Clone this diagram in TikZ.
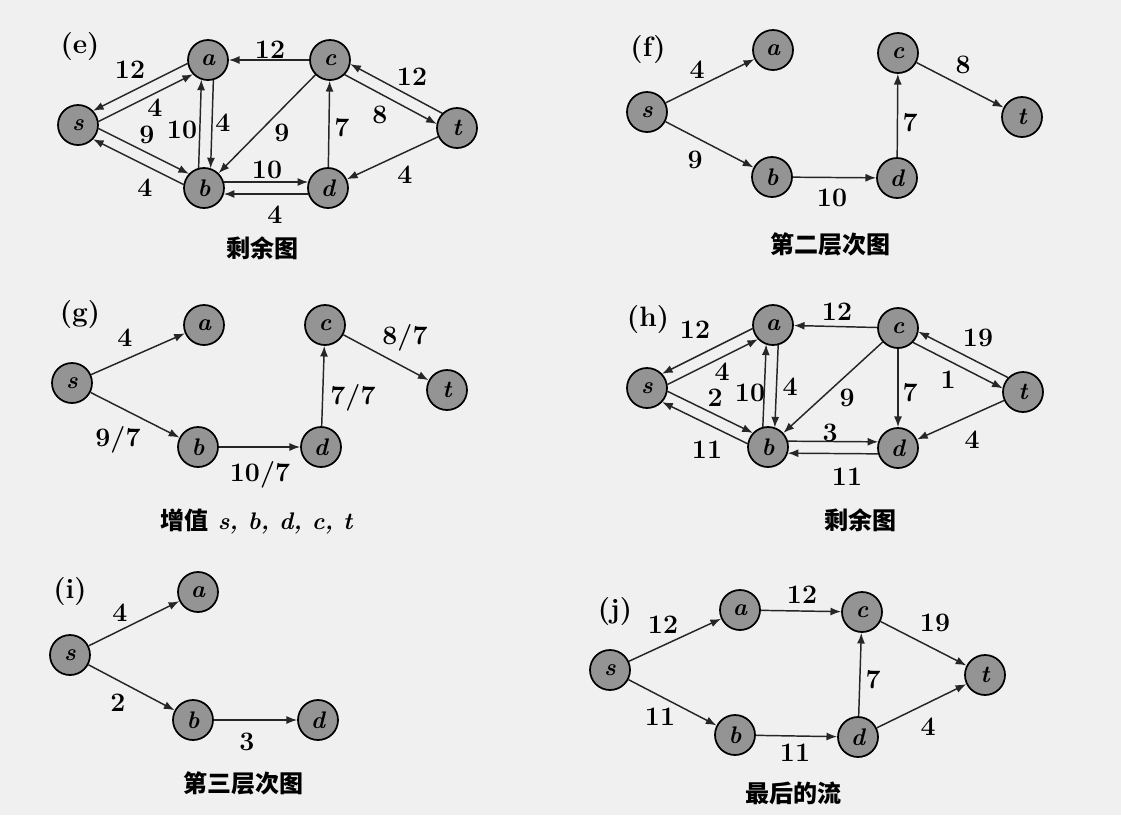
\documentclass[tikz,border=0pt]{standalone}
\usepackage{fontspec}
\usepackage{tikz}
\usetikzlibrary{arrows.meta,calc}
\newfontfamily\cjk{Noto Sans CJK SC}

\tikzset{
  vtx/.style={circle, draw, line width=1.3pt, fill=black!42, minimum size=30pt, inner sep=0pt, font=\fontsize{18}{18}\selectfont\bfseries\itshape},
  arr/.style={-{Latex[length=8pt,width=6pt]}, line width=1.1pt, draw=black!85},
  lbl/.style={inner sep=0.75pt, font=\fontsize{20}{20}\selectfont\bfseries},
  paneltag/.style={inner sep=0.75pt, font=\fontsize{21}{21}\selectfont\bfseries},
  captxt/.style={inner sep=0.75pt, font=\fontsize{18}{18}\selectfont\bfseries}
}
% two arrows side by side between the same pair of nodes
\newcommand{\laneL}[2]{\draw [arr, shorten <=14.8pt, shorten >=14.8pt] ($(#1)!4.5pt!-90:(#2)$) -- ($(#2)!4.5pt!90:(#1)$);}
\newcommand{\laneR}[2]{\draw [arr, shorten <=14.8pt, shorten >=14.8pt] ($(#1)!4.5pt!90:(#2)$) -- ($(#2)!4.5pt!-90:(#1)$);}

\begin{document}
\begin{tikzpicture}[x=0.75pt,y=0.75pt,yscale=-1,xscale=1]

\fill [white!94!black] (0,0) rectangle (1121,815);
\useasboundingbox (0,0) rectangle (1121,815);

% (e)
\node [paneltag] (etag) at (80,47) {(e)};
\node [vtx] (ea) at (208,60) {a};
\node [vtx] (ec) at (330,60) {c};
\node [vtx] (es) at (78,125) {s};
\node [vtx] (et) at (457,128) {t};
\node [vtx] (eb) at (204,188) {b};
\node [vtx] (ed) at (328,188) {d};

\draw [arr] (ec) -- (ea);
\laneR{ea}{es}
\laneR{es}{ea}
\laneL{es}{eb}
\laneL{eb}{es}
\laneL{eb}{ea}
\laneL{ea}{eb}
\draw [arr] (ec) -- (eb);
\draw [arr] (ed) -- (ec);
\laneR{et}{ec}
\laneR{ec}{et}
\draw [arr] (et) -- (ed);
\laneL{eb}{ed}
\laneL{ed}{eb}

\node [lbl] (e-ca) at (270,50) {12};
\node [lbl] (e-as) at (130,70) {12};
\node [lbl] (e-sa) at (155,108) {4};
\node [lbl] (e-sb) at (147,135) {9};
\node [lbl] (e-bs) at (145,188) {4};
\node [lbl] (e-ba) at (182,130) {10};
\node [lbl] (e-ab) at (223,123) {4};
\node [lbl] (e-cb) at (282,133) {9};
\node [lbl] (e-dc) at (342,128) {7};
\node [lbl] (e-ct) at (380,115) {8};
\node [lbl] (e-tc) at (412,77) {12};
\node [lbl] (e-td) at (405,175) {4};
\node [lbl] (e-bd) at (267,170) {10};
\node [lbl] (e-db) at (275,215) {4};
\node [captxt] (ecap) at (262,248) {\cjk 剩余图};

% (f)
\node [paneltag] (ftag) at (648,50) {(f)};
\node [vtx] (fa) at (773,50) {a};
\node [vtx] (fc) at (898,53) {c};
\node [vtx] (fs) at (647,112) {s};
\node [vtx] (ft) at (1022,117) {t};
\node [vtx] (fb) at (772,177) {b};
\node [vtx] (fd) at (897,178) {d};

\draw [arr] (fs) -- (fa);
\draw [arr] (fs) -- (fb);
\draw [arr] (fb) -- (fd);
\draw [arr] (fd) -- (fc);
\draw [arr] (fc) -- (ft);

\node [lbl] (f-sa) at (697,70) {4};
\node [lbl] (f-sb) at (695,160) {9};
\node [lbl] (f-bd) at (832,198) {10};
\node [lbl] (f-dc) at (910,123) {7};
\node [lbl] (f-ct) at (963,65) {8};
\node [captxt] (fcap) at (830,244) {\cjk 第二层次图};

% (g)
\node [paneltag] (gtag) at (80,315) {(g)};
\node [vtx] (ga) at (204,325) {a};
\node [vtx] (gc) at (325,325) {c};
\node [vtx] (gs) at (72,383) {s};
\node [vtx] (gt) at (447,390) {t};
\node [vtx] (gb) at (198,447) {b};
\node [vtx] (gd) at (321,447) {d};

\draw [arr] (gs) -- (ga);
\draw [arr] (gs) -- (gb);
\draw [arr] (gb) -- (gd);
\draw [arr] (gd) -- (gc);
\draw [arr] (gc) -- (gt);

\node [lbl] (g-sa) at (125,338) {4};
\node [lbl] (g-sb) at (118,440) {9/7};
\node [lbl] (g-bd) at (260,475) {10/7};
\node [lbl] (g-dc) at (353,398) {7/7};
\node [lbl] (g-ct) at (405,338) {8/7};
\node [captxt] (gcap) at (257,522) {{\cjk 增值} \textit{s, b, d, c, t}};

% (h)
\node [paneltag] (htag) at (648,320) {(h)};
\node [vtx] (ha) at (773,325) {a};
\node [vtx] (hc) at (898,328) {c};
\node [vtx] (hs) at (647,388) {s};
\node [vtx] (ht) at (1023,392) {t};
\node [vtx] (hb) at (768,447) {b};
\node [vtx] (hd) at (898,448) {d};

\draw [arr] (hc) -- (ha);
\laneR{ha}{hs}
\laneR{hs}{ha}
\laneL{hs}{hb}
\laneL{hb}{hs}
\laneL{hb}{ha}
\laneL{ha}{hb}
\draw [arr] (hc) -- (hb);
\draw [arr] (hc) -- (hd);
\laneR{ht}{hc}
\laneR{hc}{ht}
\draw [arr] (ht) -- (hd);
\laneL{hb}{hd}
\laneL{hd}{hb}

\node [lbl] (h-ca) at (837,312) {12};
\node [lbl] (h-as) at (695,330) {12};
\node [lbl] (h-sa) at (722,372) {4};
\node [lbl] (h-sb) at (715,398) {2};
\node [lbl] (h-bs) at (707,450) {11};
\node [lbl] (h-ba) at (750,393) {10};
\node [lbl] (h-ab) at (790,387) {4};
\node [lbl] (h-cb) at (847,398) {9};
\node [lbl] (h-cd) at (910,393) {7};
\node [lbl] (h-ct) at (948,380) {1};
\node [lbl] (h-tc) at (978,338) {19};
\node [lbl] (h-td) at (972,440) {4};
\node [lbl] (h-bd) at (830,433) {3};
\node [lbl] (h-db) at (847,477) {11};
\node [captxt] (hcap) at (860,520) {\cjk 剩余图};

% (i)
\node [paneltag] (itag) at (70,592) {(i)};
\node [vtx] (ia) at (198,592) {a};
\node [vtx] (is) at (70,655) {s};
\node [vtx] (ib) at (193,720) {b};
\node [vtx] (id) at (318,720) {d};

\draw [arr] (is) -- (ia);
\draw [arr] (is) -- (ib);
\draw [arr] (ib) -- (id);

\node [lbl] (i-sa) at (120,613) {4};
\node [lbl] (i-sb) at (118,703) {2};
\node [lbl] (i-bd) at (247,742) {3};
\node [captxt] (icap) at (243,783) {\cjk 第三层次图};

% (j)
\node [paneltag] (jtag) at (615,612) {(j)};
\node [vtx] (ja) at (740,610) {a};
\node [vtx] (jc) at (862,612) {c};
\node [vtx] (js) at (610,670) {s};
\node [vtx] (jt) at (985,675) {t};
\node [vtx] (jb) at (735,735) {b};
\node [vtx] (jd) at (858,737) {d};

\draw [arr] (js) -- (ja);
\draw [arr] (ja) -- (jc);
\draw [arr] (js) -- (jb);
\draw [arr] (jb) -- (jd);
\draw [arr] (jd) -- (jc);
\draw [arr] (jc) -- (jt);
\draw [arr] (jd) -- (jt);

\node [lbl] (j-sa) at (663,625) {12};
\node [lbl] (j-ac) at (802,595) {12};
\node [lbl] (j-ct) at (935,623) {19};
\node [lbl] (j-sb) at (660,717) {11};
\node [lbl] (j-bd) at (795,753) {11};
\node [lbl] (j-dc) at (873,680) {7};
\node [lbl] (j-dt) at (928,727) {4};
\node [captxt] (jcap) at (793,793) {\cjk 最后的流};

\end{tikzpicture}
\end{document}
